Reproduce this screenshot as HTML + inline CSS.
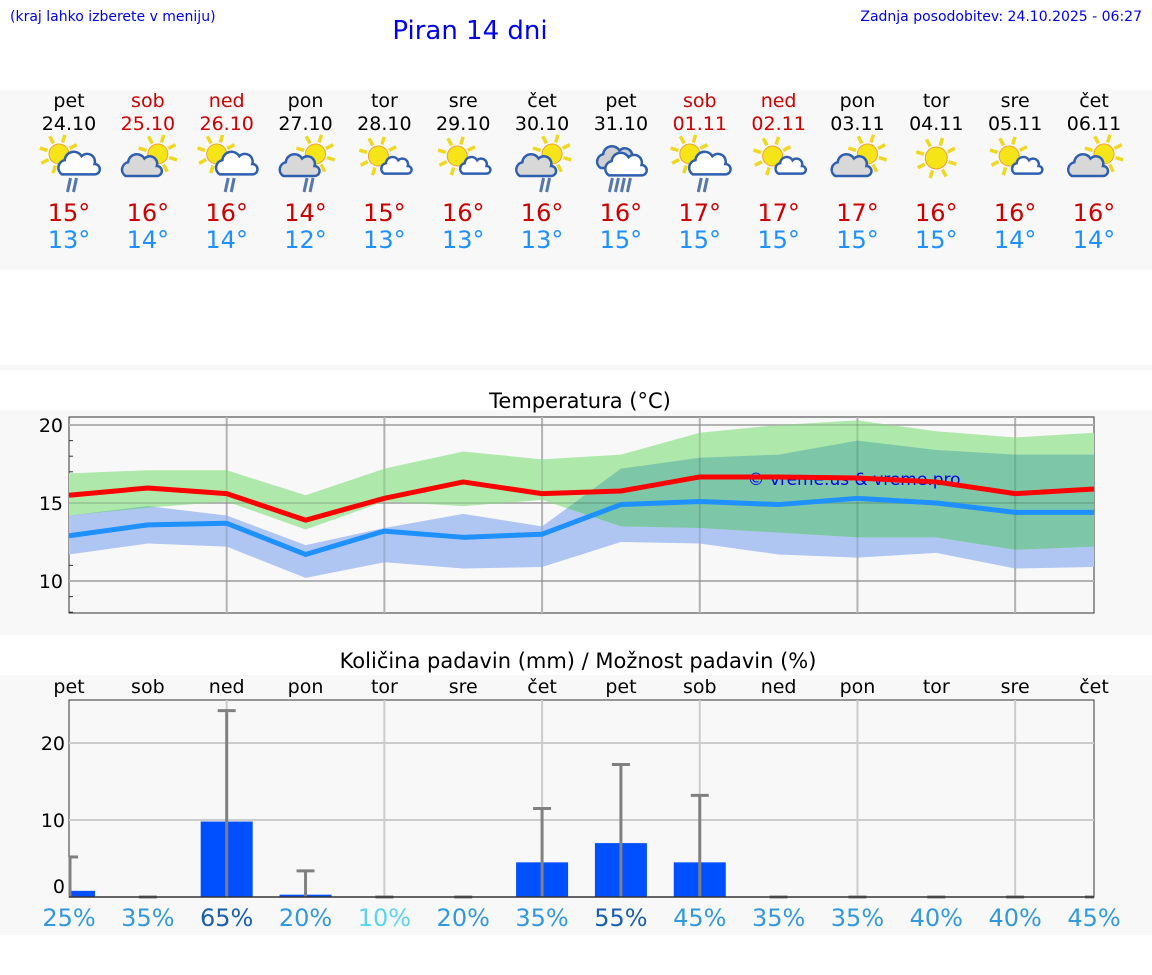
<!DOCTYPE html>
<html><head><meta charset="utf-8"><style>
body{margin:0;background:#fff;font-family:"Liberation Sans","DejaVu Sans",sans-serif}
svg{display:block}
text{font-family:"DejaVu Sans","Liberation Sans",sans-serif}
</style></head><body>
<svg id="s" width="1152" height="975" xmlns="http://www.w3.org/2000/svg">
<text x="10" y="21" font-size="14" fill="#0000ee" font-family="Liberation Sans">(kraj lahko izberete v meniju)</text>
<text x="470" y="39" font-size="26" fill="#0000ee" text-anchor="middle" font-family="Liberation Sans">Piran 14 dni</text>
<text x="1142" y="21" font-size="14" fill="#0000ee" text-anchor="end" font-family="Liberation Sans">Zadnja posodobitev: 24.10.2025 - 06:27</text>
<rect x="0" y="90" width="1152" height="180" fill="#f8f8f8"/>
<rect x="0" y="365" width="1152" height="5" fill="#f6f6f6"/>
<rect x="0" y="410" width="1152" height="225" fill="#f8f8f8"/>
<rect x="0" y="675" width="1152" height="260" fill="#f8f8f8"/>
<text x="580" y="408" font-size="21" text-anchor="middle" fill="#000">Temperatura (°C)</text>
<text x="578" y="668" font-size="21" text-anchor="middle" fill="#000">Količina padavin (mm) / Možnost padavin (%)</text>
<defs><clipPath id="blueClip"><path id="bclip" d=""/></clipPath></defs>
<g id="hdr"></g><g id="temp"></g><g id="prec"></g>
</svg>
<script>
const days=["pet","sob","ned","pon","tor","sre","čet","pet","sob","ned","pon","tor","sre","čet"];
const dates=["24.10","25.10","26.10","27.10","28.10","29.10","30.10","31.10","01.11","02.11","03.11","04.11","05.11","06.11"];
const weekend=[0,1,1,0,0,0,0,0,1,1,0,0,0,0];
const icons=["A","B","A","B","a","a","B","C","A","a","B","D","a","B"];
const rain=[1,0,1,1,0,0,1,2,1,0,0,0,0,0];
const hiT=[15,16,16,14,15,16,16,16,17,17,17,16,16,16];
const loT=[13,14,14,12,13,13,13,15,15,15,15,15,14,14];
const tMax=[15.5,15.96,15.6,13.9,15.3,16.35,15.6,15.77,16.67,16.67,16.6,16.35,15.6,15.9];
const tMin=[12.9,13.6,13.7,11.7,13.2,12.8,13.0,14.9,15.1,14.9,15.3,15.0,14.4,14.4];
const gUp=[16.9,17.1,17.1,15.5,17.2,18.3,17.8,18.1,19.5,20.0,20.3,19.6,19.2,19.5];
const gLo=[14.2,14.7,15.1,13.3,15.1,14.8,15.2,13.5,13.4,13.1,12.8,12.8,12.0,12.2];
const bUp=[14.2,14.8,14.2,12.3,13.4,14.3,13.5,17.2,17.9,18.1,19.0,18.4,18.1,18.1];
const bLo=[11.7,12.4,12.2,10.2,11.2,10.8,10.9,12.5,12.4,11.7,11.5,11.8,10.8,10.9];
const tTicks=[10,15,20];
const pAmt=[0.8,0,9.8,0.3,0,0,4.5,7.0,4.5,0,0,0,0,0];
const pErr=[5.2,0,24.2,3.4,0,0,11.5,17.2,13.2,0,0,0,0,0];
const pChance=[25,35,65,20,10,20,35,55,45,35,35,40,40,45];
const pTicks=[0,10,20];
const NS="http://www.w3.org/2000/svg";
function el(p,t,a){const e=document.createElementNS(NS,t);for(const k in a)e.setAttribute(k,a[k]);p.appendChild(e);return e;}
const X0=69,X1=1094,step=(X1-X0)/13;
const xd=i=>X0+i*step;
const yT=v=>581-(v-10)*15.6;
const yP=v=>897-v*7.7;
// header
const hdr=document.getElementById('hdr');
function sun(g,cx,cy,r){for(let k=0;k<8;k++){const a=k*Math.PI/4+0.3;el(g,'line',{x1:cx+Math.cos(a)*(r+2),y1:cy+Math.sin(a)*(r+2),x2:cx+Math.cos(a)*(r+10),y2:cy+Math.sin(a)*(r+10),stroke:'#f0d820','stroke-width':3.5});}
el(g,'circle',{cx:cx,cy:cy,r:r,fill:'#f5e418',stroke:'#f0a030','stroke-width':1});}
function cloud(g,cx,cy,s,fill){el(g,'path',{d:`M${cx-13*s} ${cy+8*s} a${6*s} ${6*s} 0 0 1 ${2*s} ${-11*s} a${7*s} ${7*s} 0 0 1 ${13*s} ${-3*s} a${6*s} ${6*s} 0 0 1 ${10*s} ${6*s} a${4*s} ${4*s} 0 0 1 0 ${8*s} z`,fill:fill,stroke:'#2f5fae','stroke-width':2.5});}
for(let i=0;i<14;i++){const x=xd(i);
const c=weekend[i]?'#cc0000':'#000';
const g=el(hdr,'g',{});


el(g,'text',{x:x,y:107,'font-size':19,'text-anchor':'middle',fill:c}).textContent=days[i];
el(g,'text',{x:x,y:130,'font-size':19,'text-anchor':'middle',fill:c}).textContent=dates[i];
const ic=el(g,'g',{});


const t=icons[i],cy=158;
if(t=='A'){sun(ic,x-10,cy-4,10);cloud(ic,x+10,cy+6,1.3,'#fff');}
else if(t=='a'){sun(ic,x-6,cy-2,10);cloud(ic,x+12,cy+8,0.95,'#fff');}
else if(t=='B'){sun(ic,x+10,cy-4,10);cloud(ic,x-6,cy+8,1.25,'#d8d8d8');}
else if(t=='C'){cloud(ic,x-4,cy+0,1.25,'#d0d0d0');cloud(ic,x+5,cy+7,1.3,'#fff');}
else {sun(ic,x,cy,11);}
if(rain[i]){const n=rain[i]==2?4:2;for(let k=0;k<n;k++){const rx=x-(n==4?10:0)+k*6;el(ic,'line',{x1:rx+1.5,y1:cy+20,x2:rx-1.5,y2:cy+34,stroke:'#5577aa','stroke-width':3});}}
el(g,'text',{x:x,y:221,'font-size':24,'text-anchor':'middle',fill:'#cc0000'}).textContent=hiT[i]+'°';
el(g,'text',{x:x,y:248,'font-size':24,'text-anchor':'middle',fill:'#1e90ff'}).textContent=loT[i]+'°';
}
// temperature chart
const tg=document.getElementById('temp');
el(tg,'rect',{x:X0,y:417,width:X1-X0,height:196,fill:'#f8f8f8',stroke:'#333','stroke-width':1});
for(let v=8;v<=20;v++){el(tg,'line',{x1:X0,x2:X0+4,y1:yT(v),y2:yT(v),stroke:'#333','stroke-width':1});}
tTicks.forEach(v=>{el(tg,'line',{x1:X0,x2:X1,y1:yT(v),y2:yT(v),stroke:'#ccc','stroke-width':2});
const tx=el(tg,'text',{x:X0-6,y:yT(v)+7,'font-size':19,'text-anchor':'end',fill:'#000'});tx.textContent=v;

});
for(let i=2;i<14;i+=2)el(tg,'line',{x1:xd(i),x2:xd(i),y1:417,y2:613,stroke:'#ccc','stroke-width':2});
function bandD(up,lo){let d='M';up.forEach((v,i)=>d+=`${xd(i)},${yT(v)} L`);for(let i=lo.length-1;i>=0;i--)d+=`${xd(i)},${yT(lo[i])} ${i?'L':'Z'}`;return d;}
const gd=bandD(gUp,gLo),bd=bandD(bUp,bLo);
document.getElementById('bclip').setAttribute('d',bd);
let p1=el(tg,'path',{d:bd,fill:'#afc6f2'});
let p2=el(tg,'path',{d:gd,fill:'#aee8aa'});
let p3=el(tg,'path',{d:gd,fill:'#7dc6a8','clip-path':'url(#blueClip)'});
tTicks.forEach(v=>el(tg,'line',{x1:X0,x2:X1,y1:yT(v),y2:yT(v),stroke:'rgba(0,0,0,0.12)','stroke-width':2}));
for(let i=2;i<14;i+=2)el(tg,'line',{x1:xd(i),x2:xd(i),y1:417,y2:613,stroke:'rgba(0,0,0,0.12)','stroke-width':2});
el(tg,'text',{x:854,y:485,'font-size':17,'text-anchor':'middle',fill:'#0000ee'}).textContent='© vreme.us & vreme.pro';
function line(arr,col,name){const p=el(tg,'polyline',{points:arr.map((v,i)=>xd(i)+','+yT(v)).join(' '),fill:'none',stroke:col,'stroke-width':5,'stroke-linejoin':'round'});
}
line(tMin,'#1e90ff','min-temp-line');
line(tMax,'#ff0000','max-temp-line');
// precip chart
const pg=document.getElementById('prec');
el(pg,'rect',{x:X0,y:700,width:X1-X0,height:197,fill:'#f8f8f8',stroke:'#333','stroke-width':1});
pTicks.forEach(v=>{if(v>0)el(pg,'line',{x1:X0,x2:X1,y1:yP(v),y2:yP(v),stroke:'#ccc','stroke-width':2});
const tx=el(pg,'text',{x:X0-4,y:(v==0?yP(1.4):yP(v))+7,'font-size':19,'text-anchor':'end',fill:'#000'});tx.textContent=v;

});
for(let i=2;i<14;i+=2)el(pg,'line',{x1:xd(i),x2:xd(i),y1:700,y2:897,stroke:'#ccc','stroke-width':2});
const pcol=p=>p>=55?'#1a5fb0':p<=10?'#5bd5ee':'#3399dd';
for(let i=0;i<14;i++){const x=xd(i);
const dl=el(pg,'text',{x:x,y:693,'font-size':19,'text-anchor':'middle',fill:'#000'});dl.textContent=days[i];


if(pAmt[i]>0){const bx=Math.max(X0,x-26),bw=Math.min(x+26,X1)-bx;
const b=el(pg,'rect',{x:bx,y:yP(pAmt[i]),width:bw,height:yP(0)-yP(pAmt[i]),fill:'#0050ff'});

}
const ex=i==0?X0+1:x;
el(pg,'line',{x1:ex,x2:ex,y1:yP(0),y2:yP(pErr[i]),stroke:'#808080','stroke-width':3});
el(pg,'line',{x1:Math.max(X0,x-9),x2:Math.min(X1,x+9),y1:yP(pErr[i]),y2:yP(pErr[i]),stroke:'#808080','stroke-width':3});
const pt=el(pg,'text',{x:x,y:926,'font-size':24,'text-anchor':'middle',fill:pcol(pChance[i])});pt.textContent=pChance[i]+'%';

}
el(pg,'line',{x1:X0,x2:X1,y1:897,y2:897,stroke:'#333','stroke-width':1.5});
</script>
</body></html>
